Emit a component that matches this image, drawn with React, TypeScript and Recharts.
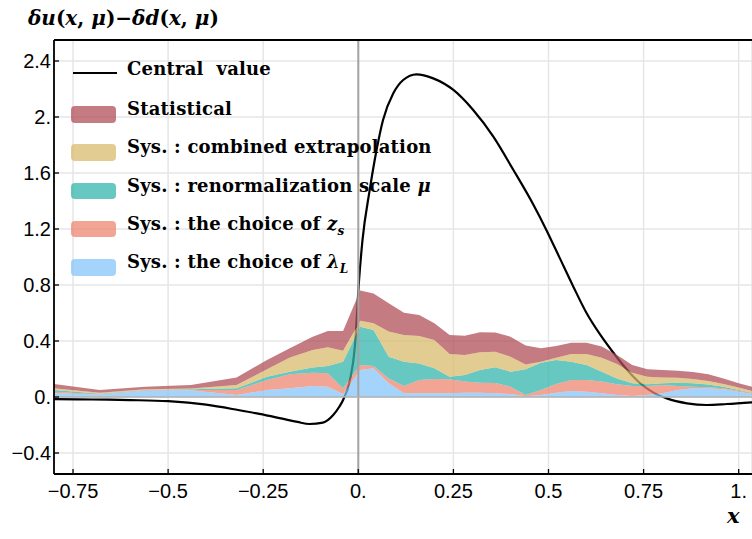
import React from 'react';
import {
  ComposedChart,
  Area,
  Line,
  XAxis,
  YAxis,
  CartesianGrid,
  ReferenceLine,
} from 'recharts';

// lattice x points where the error bands are given
const xGrid = [
  -0.8, -0.68, -0.56, -0.44, -0.32, -0.24, -0.18, -0.12, -0.08, -0.04, 0.005, 0.04, 0.08,
  0.12, 0.16, 0.2, 0.24, 0.28, 0.32, 0.36, 0.4, 0.44, 0.48, 0.52, 0.56, 0.6, 0.64, 0.68,
  0.72, 0.76, 0.8, 0.84, 0.88, 0.92, 0.96, 1.0, 1.035,
];

// upper edge of each stacked band, bottom band first
const lambdaTop = [
  0.026, 0.017, 0.044, 0.048, 0.014, 0.05, 0.062, 0.079, 0.074, 0.021, 0.193, 0.205, 0.098,
  0.026, 0.026, 0.026, 0.026, 0.031, 0.031, 0.026, 0.021, 0.005, 0.014, 0.031, 0.043, 0.038,
  0.026, 0.014, 0.007, 0.014, 0.026, 0.05, 0.062, 0.062, 0.055, 0.038, 0.021,
];
const zsTop = [
  0.038, 0.019, 0.048, 0.05, 0.05, 0.121, 0.162, 0.174, 0.169, 0.062, 0.229, 0.221, 0.133,
  0.079, 0.121, 0.129, 0.126, 0.11, 0.102, 0.1, 0.074, 0.014, 0.05, 0.093, 0.121, 0.121,
  0.11, 0.091, 0.079, 0.079, 0.086, 0.079, 0.074, 0.069, 0.062, 0.045, 0.026,
];
const muTop = [
  0.05, 0.024, 0.05, 0.055, 0.062, 0.145, 0.181, 0.21, 0.221, 0.252, 0.502, 0.479, 0.288,
  0.252, 0.24, 0.205, 0.145, 0.157, 0.193, 0.212, 0.181, 0.198, 0.245, 0.264, 0.252, 0.229,
  0.181, 0.133, 0.098, 0.091, 0.098, 0.102, 0.098, 0.09, 0.074, 0.05, 0.031,
];
const extrapTop = [
  0.062, 0.031, 0.055, 0.06, 0.086, 0.198, 0.283, 0.336, 0.355, 0.331, 0.545, 0.526, 0.467,
  0.443, 0.436, 0.407, 0.307, 0.3, 0.319, 0.324, 0.288, 0.233, 0.252, 0.281, 0.307, 0.307,
  0.281, 0.236, 0.174, 0.145, 0.14, 0.138, 0.129, 0.114, 0.093, 0.067, 0.043,
];
const statTop = [
  0.093, 0.05, 0.074, 0.086, 0.14, 0.264, 0.348, 0.43, 0.471, 0.471, 0.76, 0.74, 0.67,
  0.602, 0.586, 0.526, 0.443, 0.438, 0.462, 0.46, 0.431, 0.367, 0.348, 0.364, 0.388, 0.388,
  0.36, 0.3, 0.229, 0.198, 0.193, 0.188, 0.179, 0.162, 0.133, 0.098, 0.074,
];

// central value curve
const centralX = [
  -0.8, -0.7, -0.6, -0.5, -0.4, -0.316, -0.26, -0.2, -0.16, -0.128, -0.093, -0.066, -0.05,
  -0.04, -0.022, -0.009, 0.002, 0.011, 0.03, 0.048, 0.065, 0.092, 0.118, 0.153, 0.197, 0.25,
  0.302, 0.355, 0.407, 0.46, 0.495, 0.53, 0.565, 0.6, 0.636, 0.67, 0.707, 0.741, 0.776,
  0.811, 0.864, 0.916, 0.969, 1.035,
];
const centralY = [
  -0.015, -0.018, -0.022, -0.03, -0.055, -0.093, -0.121, -0.155, -0.178, -0.193, -0.183,
  -0.129, -0.07, -0.021, 0.121, 0.36, 0.836, 1.12, 1.479, 1.764, 1.979, 2.169, 2.264, 2.305,
  2.276, 2.193, 2.05, 1.86, 1.625, 1.375, 1.19, 0.99, 0.79, 0.6, 0.445, 0.318, 0.193,
  0.098, 0.031, -0.01, -0.045, -0.057, -0.05, -0.038,
];

const xTicks = [-0.75, -0.5, -0.25, 0, 0.25, 0.5, 0.75, 1];
const xTickLabels = ['\u22120.75', '\u22120.5', '\u22120.25', '0.', '0.25', '0.5', '0.75', '1.'];
const yTicks = [-0.4, 0, 0.4, 0.8, 1.2, 1.6, 2.0, 2.4];
const yTickLabels = ['\u22120.4', '0.', '0.4', '0.8', '1.2', '1.6', '2.', '2.4'];

const bandColors = ['#b04f57', '#d8bb6e', '#33b6ab', '#ee8770', '#86c6fa'];
const BAND_OPACITY = 0.75;

const tickFont = '"Liberation Sans", Arial, sans-serif';
const serifFont = '"DejaVu Serif", serif';

const bandRows = xGrid.map((x, i) => ({
  x,
  lam: [0, lambdaTop[i]],
  zs: [lambdaTop[i], zsTop[i]],
  mu: [zsTop[i], muTop[i]],
  ext: [muTop[i], extrapTop[i]],
  stat: [extrapTop[i], statTop[i]],
}));

const centralData = centralX.map((x, i) => ({ x, y: centralY[i] }));

function labelFor(v: number, ticks: number[], labels: string[]) {
  const i = ticks.findIndex((t) => Math.abs(t - v) < 1e-9);
  return i >= 0 ? labels[i] : String(v);
}

function XTick(props: any) {
  const { x, y, payload } = props;
  return (
    <g>
      <line x1={x} x2={x} y1={y} y2={y - 5} stroke="#000" strokeWidth={1.3} />
      <text x={x} y={y + 24} textAnchor="middle" fontSize={20} fontFamily={tickFont} fill="#000">
        {labelFor(payload.value, xTicks, xTickLabels)}
      </text>
    </g>
  );
}

function YTick(props: any) {
  const { x, y, payload } = props;
  return (
    <g>
      <line x1={x} x2={x + 5} y1={y} y2={y} stroke="#000" strokeWidth={1.3} />
      <text x={x - 3} y={y + 7} textAnchor="end" fontSize={20} fontFamily={tickFont} fill="#000">
        {labelFor(payload.value, yTicks, yTickLabels)}
      </text>
    </g>
  );
}

const legendItems: { label: React.ReactNode; color: string }[] = [
  { label: 'Statistical', color: bandColors[0] },
  { label: 'Sys. : combined extrapolation', color: bandColors[1] },
  {
    label: (
      <>
        Sys. : renormalization scale <i>{'\u03bc'}</i>
      </>
    ),
    color: bandColors[2],
  },
  {
    label: (
      <>
        Sys. : the choice of <i>z</i>
        <sub style={{ fontSize: 12, fontStyle: 'italic' }}>s</sub>
      </>
    ),
    color: bandColors[3],
  },
  {
    label: (
      <>
        Sys. : the choice of <i>{'\u03bb'}</i>
        <sub style={{ fontSize: 12, fontStyle: 'italic' }}>L</sub>
      </>
    ),
    color: bandColors[4],
  },
];

function ChartLegend() {
  const textStyle: React.CSSProperties = {
    position: 'absolute',
    left: 127,
    fontFamily: serifFont,
    fontWeight: 'bold',
    fontSize: 18,
    letterSpacing: 0.2,
    lineHeight: '20px',
    whiteSpace: 'pre',
    color: '#000',
  };
  return (
    <div style={{ position: 'absolute', left: 0, top: 0 }}>
      <div style={{ position: 'absolute', left: 73, top: 72, width: 44, height: 2.4, background: '#000' }} />
      <div style={{ ...textStyle, top: 59 }}>Central  value</div>
      {legendItems.map((it, i) => {
        const top = 106 + 38.3 * i;
        return (
          <React.Fragment key={i}>
            <div
              style={{
                position: 'absolute',
                left: 71,
                top,
                width: 45,
                height: 16.5,
                borderRadius: 4,
                background: it.color,
                opacity: BAND_OPACITY,
              }}
            />
            <div style={{ ...textStyle, top: top - 7 }}>{it.label}</div>
          </React.Fragment>
        );
      })}
    </div>
  );
}

export default function App() {
  return (
    <div style={{ position: 'absolute', left: 0, top: 0, width: 752, height: 539, background: '#fff' }}>
      <ComposedChart
        width={752}
        height={539}
        data={bandRows}
        margin={{ top: 40, right: 0, left: 0, bottom: 0 }}
      >
        <CartesianGrid stroke="#e6e6e6" strokeWidth={1.5} />
        <XAxis
          dataKey="x"
          type="number"
          domain={[-0.8, 1.035]}
          ticks={xTicks}
          interval={0}
          allowDataOverflow
          height={65}
          tickSize={0}
          tickMargin={0}
          tickLine={false}
          tick={<XTick />}
          axisLine={{ stroke: '#000', strokeWidth: 1.8 }}
        />
        <YAxis
          type="number"
          domain={[-0.55, 2.55]}
          ticks={yTicks}
          interval={0}
          allowDataOverflow
          width={54}
          tickSize={0}
          tickMargin={0}
          tickLine={false}
          tick={<YTick />}
          axisLine={{ stroke: '#000', strokeWidth: 1.8 }}
        />
        <ReferenceLine x={0} stroke="#a3a3a3" strokeWidth={2} />
        <ReferenceLine y={0} stroke="#b3b3b3" strokeWidth={1.6} />
        <ReferenceLine y={2.55} stroke="#000" strokeWidth={2} />
        <Line
          data={centralData}
          dataKey="y"
          type="monotone"
          stroke="#000"
          strokeWidth={2.2}
          dot={false}
          activeDot={false}
          isAnimationActive={false}
          zIndex={50}
        />
        <Area dataKey="lam" type="linear" stroke="none" fill={bandColors[4]} fillOpacity={BAND_OPACITY} isAnimationActive={false} />
        <Area dataKey="zs" type="linear" stroke="none" fill={bandColors[3]} fillOpacity={BAND_OPACITY} isAnimationActive={false} />
        <Area dataKey="mu" type="linear" stroke="none" fill={bandColors[2]} fillOpacity={BAND_OPACITY} isAnimationActive={false} />
        <Area dataKey="ext" type="linear" stroke="none" fill={bandColors[1]} fillOpacity={BAND_OPACITY} isAnimationActive={false} />
        <Area dataKey="stat" type="linear" stroke="none" fill={bandColors[0]} fillOpacity={BAND_OPACITY} isAnimationActive={false} />
      </ComposedChart>
      <svg width={752} height={539} style={{ position: 'absolute', left: 0, top: 0, pointerEvents: 'none' }}>
        <text x={28} y={25} fontFamily={serifFont} fontWeight="bold" fontSize={20} fill="#000">
          <tspan fontStyle="italic">{'\u03b4u'}</tspan>
          <tspan>(</tspan>
          <tspan fontStyle="italic">x</tspan>
          <tspan>, </tspan>
          <tspan fontStyle="italic">{'\u03bc'}</tspan>
          <tspan>){'\u2212'}</tspan>
          <tspan fontStyle="italic">{'\u03b4d'}</tspan>
          <tspan>(</tspan>
          <tspan fontStyle="italic">x</tspan>
          <tspan>, </tspan>
          <tspan fontStyle="italic">{'\u03bc'}</tspan>
          <tspan>)</tspan>
        </text>
        <text x={727} y={523} fontFamily={serifFont} fontWeight="bold" fontStyle="italic" fontSize={21} fill="#000">
          x
        </text>
      </svg>
      <ChartLegend />
    </div>
  );
}
